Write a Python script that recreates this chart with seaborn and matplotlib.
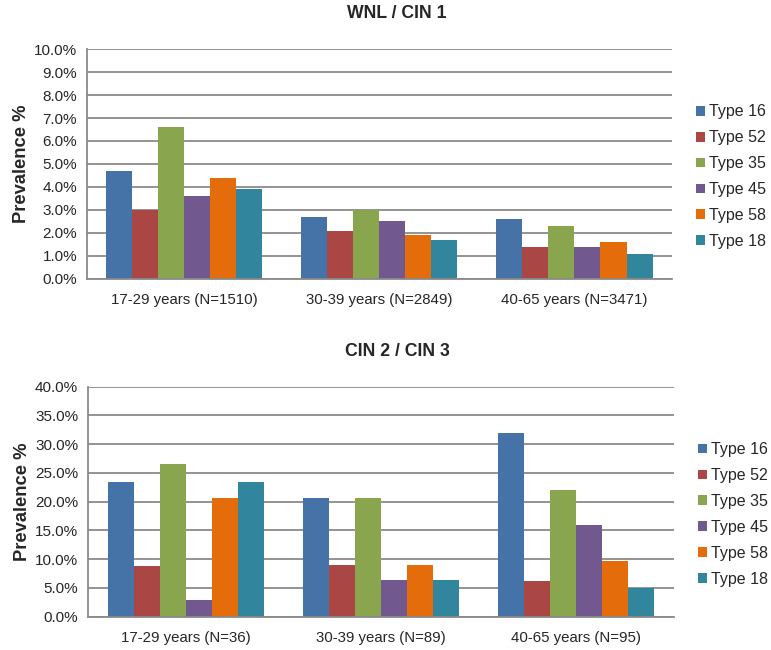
import matplotlib
matplotlib.use("Agg")
import matplotlib.pyplot as plt
import pandas as pd
import seaborn as sns
from matplotlib.ticker import FuncFormatter, MultipleLocator

# HPV type prevalence (%) by age group
hpv_types = ["Type 16", "Type 52", "Type 35", "Type 45", "Type 58", "Type 18"]
colors = ["#4572A7", "#AA4643", "#89A54E", "#71588F", "#E46C0A", "#31859C"]

groups_low = ["17-29 years (N=1510)", "30-39 years (N=2849)", "40-65 years (N=3471)"]
values_low = [
    [4.7, 3.0, 6.6, 3.6, 4.4, 3.9],
    [2.7, 2.1, 3.0, 2.5, 1.9, 1.7],
    [2.6, 1.4, 2.3, 1.4, 1.6, 1.1],
]

groups_high = ["17-29 years (N=36)", "30-39 years (N=89)", "40-65 years (N=95)"]
values_high = [
    [23.5, 8.8, 26.5, 2.9, 20.6, 23.5],
    [20.6, 9.0, 20.6, 6.3, 9.0, 6.3],
    [32.0, 6.2, 22.1, 15.9, 9.7, 5.0],
]


def to_frame(groups, values):
    rows = []
    for g, vals in zip(groups, values):
        for t, v in zip(hpv_types, vals):
            rows.append({"group": g, "type": t, "value": v})
    return pd.DataFrame(rows)


def draw_panel(ax, groups, values, ymax, step, title_y, title):
    df = to_frame(groups, values)
    sns.barplot(data=df, x="group", y="value", hue="type", hue_order=hpv_types,
                palette=colors, saturation=1, width=0.8, linewidth=0, ax=ax)
    ax.set_ylim(0, ymax)
    ax.set_xlim(-0.5, 2.5)
    ax.yaxis.set_major_locator(MultipleLocator(step))
    ax.yaxis.set_major_formatter(FuncFormatter(lambda v, _: f"{v:.1f}%"))
    ax.set_axisbelow(True)
    ax.yaxis.grid(True, color="#8a8a8a", linewidth=1.3)
    ax.xaxis.grid(False)
    for s in ["top", "right"]:
        ax.spines[s].set_visible(False)
    for s in ["left", "bottom"]:
        ax.spines[s].set_color("#8a8a8a")
        ax.spines[s].set_linewidth(1.3)
    ax.tick_params(axis="y", length=4, color="#8a8a8a", width=1.3, labelsize=11, pad=3)
    ax.tick_params(axis="x", length=0, labelsize=10.8, pad=10)
    ax.set_xlabel("")
    ax.set_ylabel("Prevalence %", fontsize=13.2, fontweight="bold", labelpad=3)

    handles, labels = ax.get_legend_handles_labels()
    ax.legend(handles, labels, loc="center left", bbox_to_anchor=(1.03, 0.445),
              frameon=False, fontsize=11.5, handlelength=0.55, handleheight=0.55,
              handletextpad=0.25, labelspacing=0.68, borderaxespad=0)
    fig.text(0.515, title_y, title, ha="center", va="center",
             fontsize=12.7, fontweight="bold")


sns.set_style("white")
plt.rcParams["font.family"] = ["Liberation Sans", "DejaVu Sans"]

fig = plt.figure(figsize=(7.71, 6.5), dpi=100)
ax_top = fig.add_axes([0.1128, 0.5708, 0.7588, 0.3538])
ax_bot = fig.add_axes([0.1141, 0.0512, 0.7600, 0.3538])

draw_panel(ax_top, groups_low, values_low, 10, 1, 1 - 13 / 650, "WNL / CIN 1")
draw_panel(ax_bot, groups_high, values_high, 40, 5, 1 - 351 / 650, "CIN 2 / CIN 3")

fig.savefig("out.png", dpi=100)
